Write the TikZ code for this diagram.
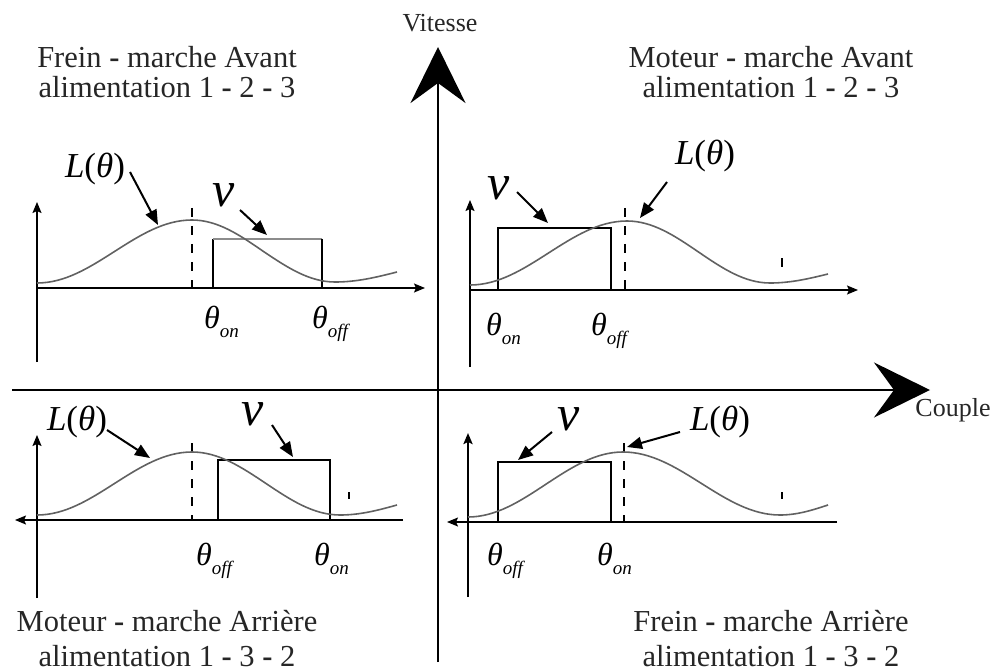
\documentclass[tikz,border=0pt]{standalone}
\usepackage{fontspec}
\setmainfont{Liberation Serif}
\usetikzlibrary{arrows.meta}
\newcommand\thsub[1]{\raisebox{-0.3em}{\fontsize{19}{19}\selectfont\itshape #1}}
\newcommand\thl[1]{\textit{θ}\thsub{#1}}
\newcommand\Lth{\textit{L}(\textit{θ})}
\tikzset{
  mainaxis/.style={line width=2.6pt,-{Stealth[length=56pt,width=55pt,inset=20pt]}},
  subaxis/.style={line width=1.4pt,-{Stealth[length=11pt,width=9pt,inset=2pt]}},
  curvestyle/.style={line width=1.6pt,draw=black!62},
  vdash/.style={line width=1.4pt,dash pattern=on 9pt off 9pt},
  vbox/.style={line width=1.5pt},
  vbottom/.style={line width=2.6pt},
  tickstyle/.style={line width=1.2pt},
  callout/.style={line width=2pt,-{Triangle[length=15pt,width=12pt]}},
  title/.style={font=\fontsize{30.5}{30}\selectfont,text=black!85,inner sep=0pt,anchor=base},
  axlab/.style={font=\fontsize{26}{26}\selectfont,text=black!85,inner sep=0pt,anchor=base},
  lab/.style={font=\fontsize{35}{35}\selectfont,inner sep=0pt,anchor=base},
  vlab/.style={font=\fontsize{50}{50}\selectfont\itshape,inner sep=0pt,anchor=base},
  thlab/.style={font=\fontsize{32}{32}\selectfont,inner sep=0pt,anchor=base west},
}
\begin{document}
\begin{tikzpicture}[x=1pt,y=-1pt]
\useasboundingbox (0,0) rectangle (996,671);

% main axes
\coordinate (hstart) at (12,390);
\coordinate (hend) at (930,390);
\coordinate (vstart) at (438,662);
\coordinate (vend) at (438,47);
\draw[mainaxis] (hstart) -- (hend);
\draw[mainaxis] (vstart) -- (vend);
\node[axlab] (vit) at (440,32) {Vitesse};
\node[axlab] (cpl) at (953,416) {Couple};

% titles
\node[title] (t1a) at (167,68) {Frein \textbf{-} marche Avant};
\node[title] (t1b) at (167,98) {alimentation 1 \textbf{-} 2 \textbf{-} 3};
\node[title] (t2a) at (771,68) {Moteur \textbf{-} marche Avant};
\node[title] (t2b) at (771,98) {alimentation 1 \textbf{-} 2 \textbf{-} 3};
\node[title] (t3a) at (167,631) {Moteur \textbf{-} marche Arrière};
\node[title] (t3b) at (167,666) {alimentation 1 \textbf{-} 3 \textbf{-} 2};
\node[title] (t4a) at (771,631) {Frein \textbf{-} marche Arrière};
\node[title] (t4b) at (771,666) {alimentation 1 \textbf{-} 3 \textbf{-} 2};

% ---------- top-left ----------
\coordinate (a1o) at (37,288);
\draw[subaxis] (37,362) -- (37,202);
\draw[subaxis] (a1o) -- (425,288);
\draw[vdash] (192,208) -- (192,288);
\draw[vbox] (213,288) -- (213,239);
\draw[vbox,draw=black!45] (213,239) -- (322,239);
\draw[vbox] (322,239) -- (322,288);
\draw[curvestyle] (37,283) cos (114.5,251.5) sin (192,220) cos (263.5,251.5) sin (335,282) cos (397,272);
\node[thlab] (a1on) at (204,328) {\thl{on}};
\node[thlab] (a1off) at (312,328) {\thl{off}};
\node[lab] (a1L) at (95,178) {\Lth};
\node[vlab] (a1V) at (224,207) {v};
\coordinate (a1Ls) at (130,172); \coordinate (a1Le) at (158,225);
\coordinate (a1Vs) at (240,210); \coordinate (a1Ve) at (267,235);
\draw[callout] (a1Ls) -- (a1Le);
\draw[callout] (a1Vs) -- (a1Ve);

% ---------- top-right ----------
\draw[subaxis] (470,367) -- (470,200);
\draw[subaxis] (470,290) -- (858,290);
\draw[vdash] (625,208) -- (625,290);
\draw[tickstyle] (782,258) -- (782,267);
\draw[vbox] (498,228) rectangle (611,290);
\draw[vbottom] (498,290) -- (611,290);
\draw[curvestyle] (470,285) cos (548.5,253) sin (627,221) cos (698.5,252) sin (770,283) cos (828,274);
\node[thlab] (a2on) at (486,335) {\thl{on}};
\node[thlab] (a2off) at (591,335) {\thl{off}};
\node[lab] (a2L) at (705,165) {\Lth};
\node[vlab] (a2V) at (499,200) {v};
\coordinate (a2Ls) at (667,182); \coordinate (a2Le) at (640,218);
\coordinate (a2Vs) at (517,192); \coordinate (a2Ve) at (548,223);
\draw[callout] (a2Ls) -- (a2Le);
\draw[callout] (a2Vs) -- (a2Ve);

% ---------- bottom-left ----------
\draw[subaxis] (403,520) -- (15,520);
\draw[subaxis] (37,598) -- (37,435);
\draw[vdash] (192,443) -- (192,520);
\draw[tickstyle] (349,492) -- (349,499);
\draw[vbox] (218,460) rectangle (330,520);
\draw[vbottom] (218,520) -- (330,520);
\draw[curvestyle] (37,515) cos (114.5,483.5) sin (192,452) cos (266,483.5) sin (340,515) cos (397,505);
\node[thlab] (a3off) at (196,565) {\thl{off}};
\node[thlab] (a3on) at (314,565) {\thl{on}};
\node[lab] (a3L) at (77,430) {\Lth};
\node[vlab] (a3V) at (253,425) {v};
\coordinate (a3Ls) at (107,430); \coordinate (a3Le) at (150,458);
\coordinate (a3Vs) at (272,425); \coordinate (a3Ve) at (293,457);
\draw[callout] (a3Ls) -- (a3Le);
\draw[callout] (a3Vs) -- (a3Ve);

% ---------- bottom-right ----------
\draw[subaxis] (837,522) -- (447,522);
\draw[subaxis,line width=2.4pt] (468,597) -- (468,433);
\draw[vdash] (624,443) -- (624,522);
\draw[tickstyle] (782,492) -- (782,499);
\draw[vbox] (498,462) rectangle (611,522);
\draw[vbottom] (498,522) -- (611,522);
\draw[curvestyle] (468,517) cos (545.5,484.5) sin (623,452) cos (701.5,483.5) sin (780,515) cos (828,505);
\node[thlab] (a4off) at (487,565) {\thl{off}};
\node[thlab] (a4on) at (597,565) {\thl{on}};
\node[lab] (a4L) at (720,430) {\Lth};
\node[vlab] (a4V) at (569,430) {v};
\coordinate (a4Ls) at (680,432); \coordinate (a4Le) at (627,447);
\coordinate (a4Vs) at (552,432); \coordinate (a4Ve) at (518,460);
\draw[callout] (a4Ls) -- (a4Le);
\draw[callout] (a4Vs) -- (a4Ve);
\end{tikzpicture}
\end{document}
